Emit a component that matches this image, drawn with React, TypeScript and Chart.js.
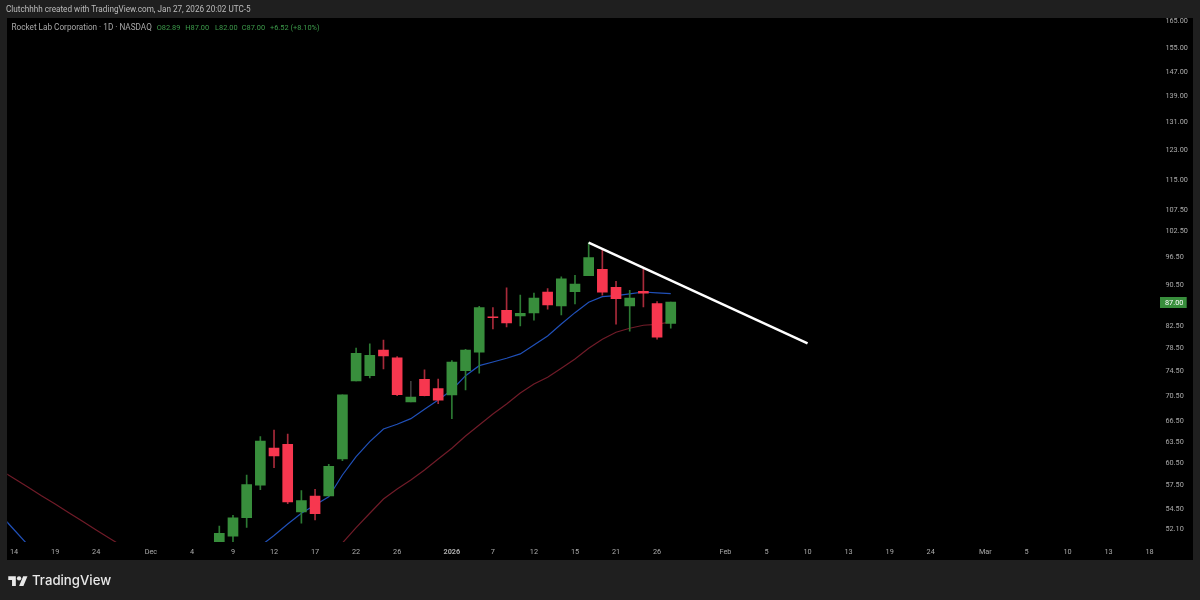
import React, { useEffect, useRef } from "react";
import { Chart, registerables } from "chart.js";

Chart.register(...registerables);

const tradingDays = [
  "2025-11-13", "2025-11-14", "2025-11-17", "2025-11-18", "2025-11-19", "2025-11-20", "2025-11-21", "2025-11-24", "2025-11-25", "2025-11-26", "2025-11-28",
  "2025-12-01", "2025-12-02", "2025-12-03", "2025-12-04", "2025-12-05", "2025-12-08", "2025-12-09", "2025-12-10", "2025-12-11", "2025-12-12",
  "2025-12-15", "2025-12-16", "2025-12-17", "2025-12-18", "2025-12-19", "2025-12-22", "2025-12-23", "2025-12-24", "2025-12-26", "2025-12-29", "2025-12-30", "2025-12-31",
  "2026-01-02", "2026-01-05", "2026-01-06", "2026-01-07", "2026-01-08", "2026-01-09", "2026-01-12", "2026-01-13", "2026-01-14", "2026-01-15", "2026-01-16",
  "2026-01-20", "2026-01-21", "2026-01-22", "2026-01-23", "2026-01-26", "2026-01-27", "2026-01-28", "2026-01-29", "2026-01-30",
  "2026-02-02", "2026-02-03", "2026-02-04", "2026-02-05", "2026-02-06", "2026-02-09", "2026-02-10", "2026-02-11", "2026-02-12", "2026-02-13",
  "2026-02-17", "2026-02-18", "2026-02-19", "2026-02-20", "2026-02-23", "2026-02-24", "2026-02-25", "2026-02-26", "2026-02-27",
  "2026-03-02", "2026-03-03", "2026-03-04", "2026-03-05", "2026-03-06", "2026-03-09", "2026-03-10", "2026-03-11", "2026-03-12", "2026-03-13",
  "2026-03-16", "2026-03-17", "2026-03-18", "2026-03-19",
];

const axisText: Record<string, string> = {
  "2025-11-14": "14", "2025-11-19": "19", "2025-11-24": "24", "2025-12-01": "Dec", "2025-12-04": "4", "2025-12-09": "9",
  "2025-12-12": "12", "2025-12-17": "17", "2025-12-22": "22", "2025-12-26": "26", "2026-01-02": "2026", "2026-01-07": "7",
  "2026-01-12": "12", "2026-01-15": "15", "2026-01-21": "21", "2026-01-26": "26", "2026-02-02": "Feb", "2026-02-05": "5",
  "2026-02-10": "10", "2026-02-13": "13", "2026-02-19": "19", "2026-02-24": "24", "2026-03-02": "Mar", "2026-03-05": "5",
  "2026-03-10": "10", "2026-03-13": "13", "2026-03-18": "18",
};

const priceTicks = [165, 155, 147, 139, 131, 123, 115, 107.5, 102.5, 96.5, 90.5, 82.5, 78.5, 74.5, 70.5, 66.5, 63.5, 60.5, 57.5, 54.5, 52.1];

const candleDays = [
  "2025-12-08", "2025-12-09", "2025-12-10", "2025-12-11", "2025-12-12", "2025-12-15", "2025-12-16", "2025-12-17", "2025-12-18", "2025-12-19",
  "2025-12-22", "2025-12-23", "2025-12-24", "2025-12-26", "2025-12-29", "2025-12-30", "2025-12-31", "2026-01-02", "2026-01-05", "2026-01-06",
  "2026-01-07", "2026-01-08", "2026-01-09", "2026-01-12", "2026-01-13", "2026-01-14", "2026-01-15", "2026-01-16", "2026-01-20", "2026-01-21",
  "2026-01-22", "2026-01-23", "2026-01-26", "2026-01-27",
];
const opens = [
  50.47, 51.13, 53.33, 57.40, 62.47, 63.00, 54.03, 56.02, 56.02, 60.93,
  72.73, 73.61, 78.03, 76.63, 69.34, 73.01, 71.47, 70.46, 74.45, 77.62,
  84.10, 85.38, 84.29, 84.86, 89.00, 86.22, 89.06, 92.36, 93.71, 89.96,
  86.22, 89.15, 86.67, 82.89,
];
const highs = [
  52.34, 53.62, 58.76, 64.09, 65.07, 64.49, 56.70, 56.88, 60.20, 70.46,
  78.38, 79.10, 79.82, 76.85, 72.68, 74.57, 73.06, 76.16, 78.15, 86.16,
  85.89, 89.82, 88.40, 88.80, 89.67, 92.09, 92.44, 99.54, 98.06, 91.19,
  89.35, 93.71, 87.07, 87.00,
];
const lows = [
  50.40, 50.44, 52.18, 56.83, 59.74, 55.05, 52.66, 53.05, 56.02, 60.70,
  72.73, 73.22, 74.74, 70.34, 69.34, 70.29, 69.08, 66.77, 71.26, 74.01,
  81.84, 82.21, 82.40, 83.47, 85.58, 84.48, 86.61, 92.36, 88.34, 82.71,
  81.41, 86.03, 79.95, 82.00,
];
const closes = [
  51.48, 53.33, 57.48, 63.47, 61.35, 55.27, 55.43, 53.82, 59.93, 70.46,
  77.45, 77.10, 76.97, 70.50, 70.13, 70.34, 69.61, 75.93, 78.03, 85.89,
  83.98, 82.96, 84.80, 87.80, 86.42, 91.67, 90.63, 96.21, 88.94, 87.66,
  87.80, 88.74, 80.31, 87.00,
];

const fastAverage = [
  53.68, 51.89, 50.15,
  null, null, null, null, null, null, null, null, null, null, null, null, null, null, null, null,
  50.01, 51.22, 52.58, 53.87, 54.89, 55.93, 58.76, 61.25, 63.37, 65.22, 65.92, 66.77, 68.20, 69.66,
  71.26, 73.61, 75.30, 75.93, 76.57, 77.33, 78.92, 80.55, 82.77, 84.92, 86.95, 88.06, 88.26, 88.60, 89.00, 88.80, 88.66,
];
const slowAverage = [
  59.43, 58.28, 57.18, 56.06, 55.02, 53.93, 52.89, 51.86, 50.88, 49.90,
  null, null, null, null, null, null, null, null, null, null, null, null, null, null, null,
  50.36, 52.14, 53.87, 55.64, 56.92, 58.10, 59.43, 60.93, 62.43, 64.20, 65.82, 67.48, 69.03,
  70.77, 72.23, 73.34, 74.85, 76.45, 78.33, 79.95, 81.23, 81.97, 82.53, 82.71, 83.15,
];
const trendLine = [
  { x: "2026-01-16", y: 99.54 },
  { x: "2026-02-10", y: 79.19 },
];
const lastPrice = 87.0;

const bgDark = "#1f1f1f";
const upBody = "#388e3c";
const downBody = "#f7374f";
const upWick = "#2c7a33";
const downWick = "#a82a3a";
const flatWick = "#3c3c3c";
const tickGrey = "#ababab";
const tickFont = "Roboto, sans-serif";

const priceBadge = {
  id: "priceBadge",
  afterDraw(chart: any) {
    const ctx = chart.ctx;
    const y = chart.scales.y.getPixelForValue(lastPrice);
    ctx.save();
    ctx.fillStyle = upBody;
    ctx.fillRect(1160, Math.round(y) - 5, 26.7, 11);
    ctx.fillStyle = "#ffffff";
    ctx.font = `7.3px ${tickFont}`;
    ctx.textAlign = "left";
    ctx.textBaseline = "middle";
    ctx.fillText(lastPrice.toFixed(2), 1165, Math.round(y) + 1);
    ctx.restore();
  },
};

export default function App() {
  const ref = useRef<HTMLCanvasElement | null>(null);

  useEffect(() => {
    if (!ref.current) return;
    const isUp = (i: number) => closes[i] >= opens[i];
    const chart = new Chart(ref.current, {
      type: "bar",
      data: {
        labels: tradingDays,
        datasets: [
          {
            type: "line",
            label: "Fast average",
            data: fastAverage,
            borderColor: "#2050b8",
            borderWidth: 1.2,
            pointRadius: 0,
            tension: 0,
            spanGaps: false,
            order: 4,
          },
          {
            type: "line",
            label: "Slow average",
            data: slowAverage,
            borderColor: "#701b28",
            borderWidth: 1.2,
            pointRadius: 0,
            tension: 0,
            spanGaps: false,
            order: 5,
          },
          {
            label: "Wick",
            data: candleDays.map((d, i) => ({ x: d, y: [lows[i], highs[i]] })),
            backgroundColor: candleDays.map((d, i) =>
              d === "2025-12-29" ? flatWick : isUp(i) ? upWick : downWick
            ),
            barThickness: 1,
            grouped: false,
            order: 3,
          },
          {
            label: "Body",
            data: candleDays.map((d, i) => ({ x: d, y: [opens[i], closes[i]] })),
            backgroundColor: candleDays.map((_, i) => (isUp(i) ? upBody : downBody)),
            barThickness: 10,
            grouped: false,
            order: 2,
          },
          {
            type: "line",
            label: "Trend line",
            data: trendLine,
            borderColor: "#ffffff",
            borderWidth: 2.5,
            pointRadius: 0,
            order: 1,
          },
        ] as any,
      },
      options: {
        responsive: false,
        animation: false,
        layout: { padding: { left: 7.26, top: 17.5, right: 0, bottom: 0 } },
        plugins: {
          legend: { display: false },
          title: { display: false },
          tooltip: { enabled: false },
        },
        scales: {
          x: {
            type: "category",
            offset: true,
            min: "2025-11-14",
            max: "2026-03-18",
            grid: { display: false, drawTicks: false },
            border: { display: false },
            afterFit(scale: any) {
              scale.height = 58;
            },
            ticks: {
              autoSkip: false,
              maxRotation: 0,
              minRotation: 0,
              padding: 5.5,
              color: tickGrey,
              font: (c: any) => ({
                family: tickFont,
                size: 7.3,
                weight: c.tick && c.tick.label === "2026" ? "bold" : "normal",
              }),
              callback(this: any, v: any) {
                return axisText[this.getLabelForValue(v)] ?? "";
              },
            },
          },
          y: {
            type: "logarithmic",
            position: "right",
            min: 50.47,
            max: 165.9,
            grid: { display: false, drawTicks: false },
            border: { display: false },
            afterBuildTicks(scale: any) {
              scale.ticks = priceTicks.map((value) => ({ value }));
            },
            afterFit(scale: any) {
              scale.width = 43.6;
            },
            ticks: {
              autoSkip: false,
              padding: 9,
              labelOffset: 1,
              color: tickGrey,
              font: { family: tickFont, size: 7.3 },
              callback: (v: any) => Number(v).toFixed(2),
            },
          },
        },
      } as any,
      plugins: [priceBadge],
    });
    return () => chart.destroy();
  }, []);

  const green = "#3c9a4a";
  const legendItem = (left: number, text: string) => (
    <span style={{ position: "absolute", left, top: 0, color: green, whiteSpace: "nowrap", fontSize: "7.4px" }}>{text}</span>
  );

  return (
    <div style={{ position: "fixed", left: 0, top: 0, width: 1200, height: 600, background: bgDark, overflow: "hidden" }}>
      <div style={{ position: "absolute", left: 7, top: 17.5, width: 1186, height: 542.5, background: "#000" }} />
      <canvas ref={ref} width={1200} height={600} style={{ position: "absolute", left: 0, top: 0, display: "block" }} />
      <div
        style={{
          position: "absolute", left: 6, top: 4, font: "8.16px Roboto, sans-serif", lineHeight: "11px",
          color: "#bcbcbc", whiteSpace: "nowrap",
        }}
      >
        Clutchhhh created with TradingView.com, Jan 27, 2026 20:02 UTC-5
      </div>
      <div style={{ position: "absolute", left: 0, top: 22, width: 400, height: 11, font: "8.2px Roboto, sans-serif", lineHeight: "11px" }}>
        <span style={{ position: "absolute", left: 11.5, top: 0, color: "#a8a8a8", whiteSpace: "nowrap" }}>
          Rocket Lab Corporation · 1D · NASDAQ
        </span>
        {legendItem(156.7, "O82.89")}
        {legendItem(185.3, "H87.00")}
        {legendItem(215, "L82.00")}
        {legendItem(241.7, "C87.00")}
        {legendItem(270, "+6.52 (+8.10%)")}
      </div>
      <svg style={{ position: "absolute", left: 8, top: 573.5 }} width="20" height="13" viewBox="0 0 36 24">
        <path fill="#e8e8e8" d="M14 22H7V11H0V4h14v18zM28 22h-8l7.5-18h8L28 22z" />
        <circle fill="#e8e8e8" cx="20" cy="8" r="4" />
      </svg>
      <div
        style={{
          position: "absolute", left: 32, top: 570, font: "500 13.2px Inter, sans-serif", lineHeight: "20px",
          color: "#e8e8e8", whiteSpace: "nowrap",
        }}
      >
        TradingView
      </div>
    </div>
  );
}
